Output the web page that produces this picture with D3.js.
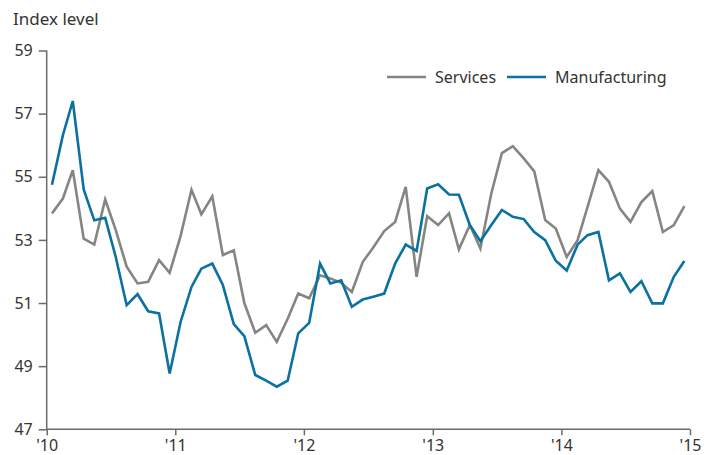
<!DOCTYPE html>
<html>
<head>
<meta charset="utf-8">
<script src="https://cdn.jsdelivr.net/npm/d3@7"></script>
<style>
  body { margin: 0; background: #fff; }
  svg { display: block; font-family: "Noto Sans", sans-serif; }
</style>
</head>
<body>
<svg id="svg" width="708" height="455"></svg>
<script>
// monthly index levels, Jan 2010 - Dec 2014
const services = [
  53.84, 54.31, 55.21, 53.04, 52.85, 54.28, 53.31, 52.15, 51.62, 51.67, 52.36, 51.96,
  53.12, 54.59, 53.81, 54.38, 52.52, 52.67, 51.00, 50.06, 50.30, 49.77, 50.50, 51.30,
  51.15, 51.88, 51.78, 51.64, 51.35, 52.30, 52.76, 53.28, 53.57, 54.68, 51.83, 53.75,
  53.47, 53.84, 52.70, 53.47, 52.73, 54.47, 55.75, 55.97, 55.58, 55.17, 53.63, 53.36,
  52.46, 52.99, 54.04, 55.21, 54.84, 53.99, 53.57, 54.20, 54.55, 53.25, 53.47, 54.07
];
const manufacturing = [
  54.75, 56.32, 57.40, 54.60, 53.62, 53.70, 52.46, 50.93, 51.28, 50.74, 50.67, 48.77,
  50.40, 51.51, 52.09, 52.25, 51.57, 50.33, 49.95, 48.72, 48.54, 48.35, 48.54, 50.04,
  50.37, 52.25, 51.62, 51.72, 50.88, 51.11, 51.20, 51.30, 52.25, 52.85, 52.65, 54.63,
  54.76, 54.44, 54.43, 53.47, 52.96, 53.47, 53.95, 53.73, 53.66, 53.25, 52.99, 52.34,
  52.03, 52.85, 53.15, 53.25, 51.72, 51.94, 51.35, 51.69, 50.99, 50.99, 51.83, 52.33
];
const seriesNames = ['Services', 'Manufacturing'];
const yTicks = [47, 49, 51, 53, 55, 57, 59];
const xTickYears = [2010, 2011, 2012, 2013, 2014, 2015];
const xTickLabels = ["'10", "'11", "'12", "'13", "'14", "'15"];

const colors = { Services: '#858581', Manufacturing: '#0a71a0' };

const margin = { top: 50.5, right: 18, bottom: 25.7, left: 46.7 };
const width = 708, height = 455;

const svg = d3.select('#svg');

// points sit in the middle of each month
const months = d3.range(services.length).map(i => new Date(2010, i, 16));

const x = d3.scaleTime()
  .domain([new Date(2010, 0, 1), new Date(2015, 0, 1)])
  .range([margin.left, width - margin.right]);

const y = d3.scaleLinear()
  .domain([47, 59])
  .range([height - margin.bottom, margin.top]);

// y axis
const yAxis = svg.append('g')
  .attr('transform', 'translate(' + margin.left + ',0)')
  .call(d3.axisLeft(y).tickValues(yTicks).tickSize(8).tickPadding(6).tickFormat(d3.format('d')));

// x axis
const xAxis = svg.append('g')
  .attr('transform', 'translate(0,' + (height - margin.bottom) + ')')
  .call(d3.axisBottom(x)
    .tickValues(xTickYears.map(yr => new Date(yr, 0, 1)))
    .tickSize(6)
    .tickPadding(4)
    .tickFormat((d, i) => xTickLabels[i]));

[yAxis, xAxis].forEach(ax => {
  ax.select('.domain').attr('stroke', '#6b6b6b').attr('stroke-width', 1.5);
  ax.selectAll('.tick line').attr('stroke', '#6b6b6b').attr('stroke-width', 1.5);
  ax.selectAll('.tick text')
    .attr('fill', '#333')
    .style('font-size', '16px')
    .style('font-family', '"Noto Sans", sans-serif');
});
// y axis domain only as a straight line (no end caps)
yAxis.select('.domain').attr('d', 'M0,' + y(59) + 'V' + y(47));
xAxis.select('.domain').attr('d', 'M' + x.range()[0] + ',0H' + x.range()[1]);

// axis title
svg.append('text')
  .attr('x', 13)
  .attr('y', 25)
  .attr('fill', '#333')
  .style('font-size', '17px')
  .text('Index level');

// lines
const line = d3.line()
  .x((d, i) => x(months[i]))
  .y(d => y(d));

const data = { Services: services, Manufacturing: manufacturing };

seriesNames.forEach(name => {
  svg.append('path')
    .datum(data[name])
    .attr('fill', 'none')
    .attr('stroke', colors[name])
    .attr('stroke-width', 2.6)
    .attr('stroke-linejoin', 'miter')
    .attr('d', line);
});

// legend
const legendItems = [
  { name: 'Services', x: 387 },
  { name: 'Manufacturing', x: 507 }
];
const legend = svg.append('g')
  .selectAll('g')
  .data(legendItems)
  .enter()
  .append('g')
  .attr('transform', d => 'translate(' + d.x + ',77)');

legend.append('line')
  .attr('x1', 0).attr('x2', 39)
  .attr('stroke', d => colors[d.name])
  .attr('stroke-width', 2.6);

legend.append('text')
  .attr('x', 48)
  .attr('y', 6)
  .attr('fill', '#333')
  .style('font-size', '16px')
  .text(d => d.name);
</script>
</body>
</html>
